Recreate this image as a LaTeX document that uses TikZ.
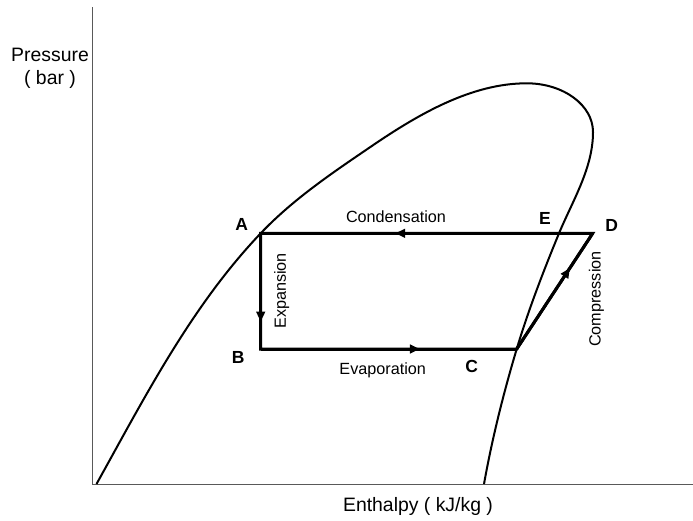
\documentclass[tikz,border=0pt]{standalone}
\usepackage{fontspec}
\setmainfont{Liberation Sans}
\usetikzlibrary{arrows.meta,decorations.markings}

\begin{document}
\begin{tikzpicture}[x=1pt,y=-1pt,
  axisline/.style={line width=1.2pt, black!65},
  cycleline/.style={line width=3pt, line join=miter},
  domeline/.style={line width=2pt},
  pointlabel/.style={font=\fontsize{17.5}{20}\selectfont\bfseries},
  processlabel/.style={font=\fontsize{16.2}{19}\selectfont},
  axislabel/.style={font=\fontsize{19.4}{23}\selectfont, align=center},
  midarrow/.style={postaction={decorate, decoration={markings,
      mark=at position #1 with {\arrow{Triangle[length=10pt,width=8.5pt]}}}}},
]
\useasboundingbox (0,0) rectangle (693,520);

% axes
\coordinate (O) at (92.7,484.3);
\coordinate (ytop) at (92.7,7.3);
\coordinate (xend) at (693,484.3);
\draw[axisline] (ytop) -- (O) -- (xend);

% state points of the cycle
\coordinate (A) at (260.7,233.3);
\coordinate (B) at (260.7,349);
\coordinate (C) at (516.7,349);
\coordinate (D) at (592.7,233.3);
\coordinate (E) at (559,233.3);

% points along the saturation dome
\coordinate (L0) at (96.5,484);
\coordinate (M1) at (373.3,145);
\coordinate (P) at (526.7,83.3);
\coordinate (R) at (593,132);
\coordinate (V0) at (484,484);

% saturation dome
\draw[domeline] (L0)
  .. controls (145.1,396.6) and (191.7,305.7) .. (A)
  .. controls (293.8,198.5) and (333.6,172) .. (M1)
  .. controls (418.8,114.1) and (471.7,83.3) .. (P)
  .. controls (563.3,83.3) and (593,105.1) .. (R)
  .. controls (593,168) and (572.9,200.1) .. (E)
  .. controls (543.4,271.2) and (528.5,309.7) .. (C)
  .. controls (503.5,393.1) and (492.1,438.7) .. (V0);

% refrigeration cycle
\draw[cycleline] (A) -- (B) -- (C) -- (D) -- cycle;
\draw[cycleline, midarrow=0.595] (D) -- (A);
\draw[cycleline, midarrow=0.764] (A) -- (B);
\draw[cycleline, midarrow=0.622] (B) -- (C);
\draw[cycleline, midarrow=0.70] (C) -- (D);

% point labels
\node[pointlabel] (lA) at (241.7,224) {A};
\node[pointlabel] (lB) at (238.3,357.5) {B};
\node[pointlabel] (lC) at (471.7,366.7) {C};
\node[pointlabel] (lD) at (611.7,225) {D};
\node[pointlabel] (lE) at (545,218) {E};

% process labels
\node[processlabel] (cond) at (396,216.7) {Condensation};
\node[processlabel] (evap) at (382.7,370) {Evaporation};
\node[processlabel, rotate=90] (expn) at (281.7,290.8) {Expansion};
\node[processlabel, rotate=90] (comp) at (596.5,299) {Compression};

% axis labels
\node[axislabel] (ylab) at (50,68.5) {Pressure\\( bar )};
\node[axislabel] (xlab) at (418,506.7) {Enthalpy ( kJ/kg )};
\end{tikzpicture}
\end{document}
